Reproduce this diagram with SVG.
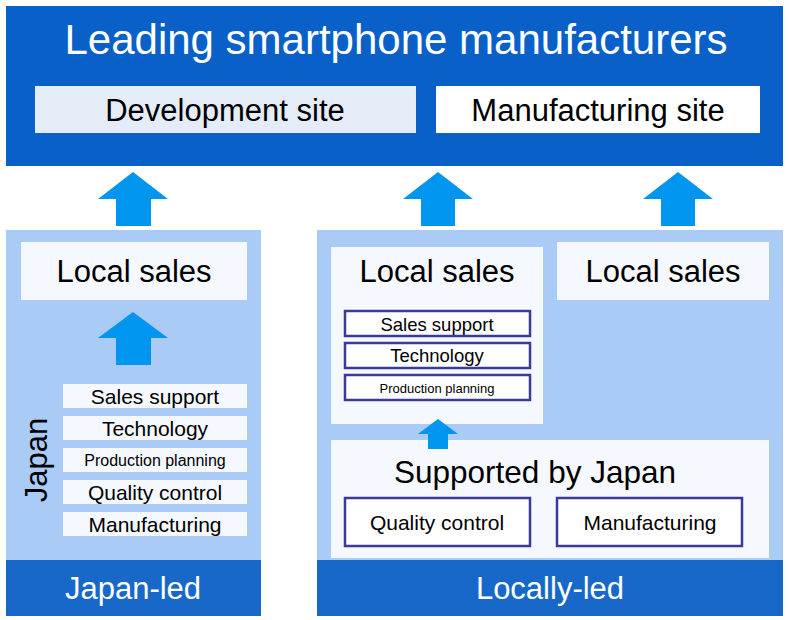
<svg xmlns="http://www.w3.org/2000/svg" width="789" height="620" viewBox="0 0 789 620">
  <style>
    text { font-family: "Liberation Sans", Arial, sans-serif; fill: #000; text-anchor: middle; }
    .hdr { fill: #0860c8; }
    .band { fill: #1768c9; }
    .panel { fill: #a9cbf5; }
    .card { fill: #f5f8fe; }
    .task { fill: #ffffff; stroke: #3a3a9a; stroke-width: 2.5; }
    .arrow { fill: #0096ef; }
    .w { fill: #ffffff; }
  </style>

  <!-- Manufacturers header -->
  <g id="manufacturers">
    <rect class="hdr" x="6" y="6" width="777" height="160"/>
    <text class="w" x="396" y="54" font-size="42">Leading smartphone manufacturers</text>
  </g>
  <g id="development-site">
    <rect x="35" y="86" width="381" height="47" fill="#e4ecf8"/>
    <text x="225" y="121" font-size="31">Development site</text>
  </g>
  <g id="manufacturing-site">
    <rect x="436" y="86" width="324" height="47" fill="#ffffff"/>
    <text x="598" y="121" font-size="31">Manufacturing site</text>
  </g>

  <!-- Japan-led panel -->
  <g id="japan-led">
    <rect class="panel" x="6" y="230" width="255" height="386"/>
    <rect class="band" x="6" y="560" width="255" height="56"/>
    <text class="w" x="133" y="599" font-size="31">Japan-led</text>
    <text x="0" y="0" font-size="31" transform="translate(47,460) rotate(-90)">Japan</text>
  </g>
  <g id="japan-local-sales">
    <rect class="card" x="21" y="242" width="226" height="58"/>
    <text x="134" y="282" font-size="31">Local sales</text>
  </g>
  <g id="japan-functions">
    <rect class="card" x="63" y="384" width="184" height="24"/>
    <text x="155" y="404" font-size="21">Sales support</text>
    <rect class="card" x="63" y="416" width="184" height="24"/>
    <text x="155" y="436" font-size="21">Technology</text>
    <rect class="card" x="63" y="448" width="184" height="24"/>
    <text x="155" y="466" font-size="16">Production planning</text>
    <rect class="card" x="63" y="480" width="184" height="24"/>
    <text x="155" y="500" font-size="21">Quality control</text>
    <rect class="card" x="63" y="512" width="184" height="24"/>
    <text x="155" y="532" font-size="21">Manufacturing</text>
  </g>

  <!-- Locally-led panel -->
  <g id="locally-led">
    <rect class="panel" x="317" y="230" width="466" height="386"/>
    <rect class="band" x="317" y="560" width="466" height="56"/>
    <text class="w" x="550" y="599" font-size="31">Locally-led</text>
  </g>
  <g id="local-sales-supported">
    <rect class="card" x="331" y="247" width="212" height="177"/>
    <text x="437" y="282" font-size="31">Local sales</text>
    <rect class="task" x="345" y="311" width="185" height="25"/>
    <text x="437" y="331" font-size="18.5">Sales support</text>
    <rect class="task" x="345" y="343" width="185" height="25"/>
    <text x="437" y="362" font-size="18.5">Technology</text>
    <rect class="task" x="345" y="375" width="185" height="25"/>
    <text x="437" y="393" font-size="13">Production planning</text>
  </g>
  <g id="local-sales-independent">
    <rect class="card" x="557" y="242" width="212" height="58"/>
    <text x="663" y="282" font-size="31">Local sales</text>
  </g>
  <g id="supported-by-japan">
    <rect class="card" x="331" y="440" width="438" height="118"/>
    <text x="535" y="483" font-size="31.5">Supported by Japan</text>
    <rect class="task" x="345" y="498" width="185" height="48"/>
    <text x="437" y="530" font-size="21">Quality control</text>
    <rect class="task" x="557" y="498" width="185" height="48"/>
    <text x="650" y="530" font-size="21">Manufacturing</text>
  </g>

  <!-- Block arrows -->
  <g id="connectors">
    <polygon class="arrow" points="133,172 168,199 151,199 151,226 116,226 116,199 98,199"/>
    <polygon class="arrow" points="133,312 168,338 151,338 151,365 116,365 116,338 98,338"/>
    <polygon class="arrow" points="438,172 473,199 455,199 455,226 421,226 421,199 403,199"/>
    <polygon class="arrow" points="678,172 713,199 695,199 695,226 661,226 661,199 643,199"/>
    <polygon class="arrow" points="438,419 458,434 448,434 448,449 428,449 428,434 418,434"/>
  </g>
</svg>
